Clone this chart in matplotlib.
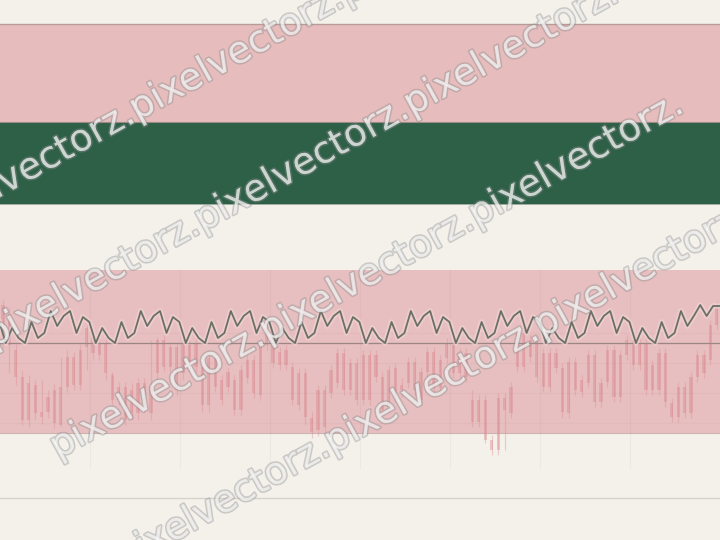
import numpy as np
import matplotlib.pyplot as plt
import matplotlib.patheffects as pe

# candle data (price units)
opens = [235, 225, 190, 163, 120, 155, 123, 143, 117, 115,
         153, 155, 155, 212, 203, 197, 197, 165, 153, 120,
         127, 127, 157, 127, 167, 200, 193, 150, 167, 173,
         197, 135, 135, 182, 140, 168, 130, 130, 180, 147,
         145, 213, 195, 175, 190, 173, 167, 167, 108, 110,
         113, 147, 187, 187, 177, 140, 185, 140, 185, 130,
         133, 172, 150, 178, 178, 140, 188, 188, 152, 197,
         195, 187, 187, 140, 140, 140, 90, 90, 130, 127,
         207, 173, 200, 200, 187, 153, 187, 128, 127, 178,
         148, 185, 185, 138, 190, 190, 143, 200, 200, 197,
         197, 150, 187, 187, 123, 123, 127, 127, 163, 167,
         180, 215]
closes = [200, 195, 163, 120, 157, 127, 128, 128, 150, 153,
          183, 183, 190, 193, 187, 185, 167, 140, 140, 153,
          150, 157, 133, 153, 200, 173, 173, 193, 197, 195,
          173, 173, 182, 153, 160, 153, 160, 170, 162, 180,
          195, 195, 177, 188, 175, 140, 135, 123, 122, 150,
          150, 170, 157, 150, 150, 177, 140, 185, 163, 163,
          170, 143, 155, 157, 150, 168, 168, 152, 180, 182,
          167, 167, 163, 118, 118, 100, 100, 142, 142, 153,
          173, 207, 183, 163, 153, 187, 172, 172, 178, 150,
          160, 157, 138, 157, 158, 143, 185, 185, 175, 175,
          150, 175, 150, 138, 137, 153, 153, 163, 185, 185,
          215, 232]
highs = [240, 233, 196, 170, 165, 160, 160, 150, 156, 183,
         190, 188, 196, 216, 208, 202, 203, 168, 158, 158,
         157, 162, 162, 200, 203, 205, 198, 198, 202, 200,
         202, 178, 186, 186, 165, 172, 165, 175, 185, 185,
         200, 218, 200, 193, 195, 178, 172, 172, 128, 155,
         155, 175, 192, 192, 182, 182, 190, 190, 190, 168,
         175, 177, 162, 183, 183, 173, 193, 193, 185, 202,
         200, 192, 192, 150, 145, 145, 105, 147, 147, 158,
         212, 212, 205, 205, 192, 192, 192, 177, 183, 183,
         165, 190, 190, 162, 195, 195, 190, 205, 205, 202,
         202, 180, 192, 192, 142, 158, 158, 168, 190, 190,
         220, 238]
lows = [192, 167, 155, 115, 113, 120, 116, 122, 112, 113,
        148, 150, 150, 170, 180, 180, 160, 135, 135, 115,
        120, 120, 128, 120, 160, 168, 168, 145, 160, 168,
        168, 128, 128, 148, 135, 148, 125, 125, 157, 142,
        140, 190, 172, 170, 170, 135, 130, 116, 102, 104,
        108, 142, 152, 145, 145, 135, 135, 135, 158, 125,
        128, 138, 143, 152, 145, 135, 163, 147, 147, 177,
        162, 162, 158, 113, 113, 97, 85, 85, 90, 122,
        168, 168, 178, 158, 148, 148, 167, 122, 122, 145,
        143, 152, 133, 133, 153, 138, 138, 180, 170, 170,
        145, 145, 145, 133, 118, 118, 122, 122, 158, 162,
        175, 210]

# oscillator line
osc = [218, 197, 212, 202, 197, 218, 202, 207, 229, 214, 224,
       229, 207, 223, 218, 197, 212, 202, 197, 218, 202, 207, 229, 214, 224,
       229, 207, 223, 218, 197, 212, 202, 197, 218, 202, 207, 229, 214, 224,
       229, 207, 223, 218, 197, 212, 202, 197, 218, 202, 207, 229, 214, 224,
       229, 207, 223, 218, 197, 212, 202, 197, 218, 202, 207, 229, 214, 224,
       229, 207, 223, 218, 197, 212, 202, 197, 218, 202, 207, 229, 214, 224,
       229, 207, 223, 218, 197, 212, 202, 197, 218, 202, 207, 229, 214, 224,
       229, 207, 223, 218, 197, 212, 202, 197, 218, 202, 207, 229, 214, 224,
       235, 224, 234, 234]
osc_base = 197

watermark = 'pixelvectorz.'

BG = '#f4f1eb'
PINK = '#e6bcbc'
GREEN = '#2d6047'

fig = plt.figure(figsize=(7.2, 5.4), dpi=100)
fig.patch.set_facecolor(BG)
ax = fig.add_axes([0, 0, 1, 1])
ax.set_facecolor(BG)
ax.set_xlim(-0.467, 111.5)
ax.set_ylim(0, 540)
for s in ax.spines.values():
    s.set_visible(False)
ax.set_xticks([])
ax.set_yticks([])

# background bands
ax.axhspan(418, 516, color=PINK, lw=0, zorder=0)
ax.axhspan(336, 418, color=GREEN, lw=0, zorder=0)
ax.axhspan(107, 270, color='#e7bfc0', lw=0, zorder=0)
ax.axhline(516, color='#b89c9a', lw=1, zorder=1)
ax.axhline(418, color='#9c8a86', lw=0.8, zorder=1)
ax.axhline(336, color='#8fa096', lw=0.6, zorder=1)
ax.axhline(107, color='#cfb3b2', lw=0.8, zorder=1)
ax.axhline(42, color='#d6d3cc', lw=1, zorder=1)

# faint grid
for gx in np.arange(13.5, 100, 14):
    ax.plot([gx, gx], [72, 270], color='#a07070', alpha=0.07, lw=0.8, zorder=1)
for gy in [207, 177, 147, 117]:
    ax.axhline(gy, color='#a07070', alpha=0.06, lw=0.8, zorder=1)

# candles
x = np.arange(len(opens))
o = np.array(opens)
c = np.array(closes)
ax.vlines(x, lows, highs, color='#d9868d', alpha=0.35, lw=0.9, zorder=2)
ax.bar(x, np.abs(c - o), bottom=np.minimum(o, c), width=0.5,
       color='#d9868d', alpha=0.4, lw=0, zorder=2)

# oscillator
ox = np.arange(len(osc)) - 0.575
ax.axhline(osc_base, color='#9b8684', lw=0.9, zorder=3)
ax.plot(ox, osc, color='#f3d5d5', lw=4, alpha=0.6, zorder=3)
ax.plot(ox, osc, color='#6a7066', lw=1.3, zorder=4)

# watermark rows (start point in pixels)
for px, py in [(-72, 237), (-7, 348), (58, 459), (123, 570)]:
    fig.text(px / 720, 1 - py / 540, watermark * 3, rotation=29,
             rotation_mode='anchor', ha='left', va='baseline',
             fontsize=27, color='white', alpha=0.6, zorder=10,
             path_effects=[pe.withStroke(linewidth=2.2, foreground='#8c8c8c', alpha=0.4)])

fig.savefig('out.png', dpi=100, facecolor=BG)
